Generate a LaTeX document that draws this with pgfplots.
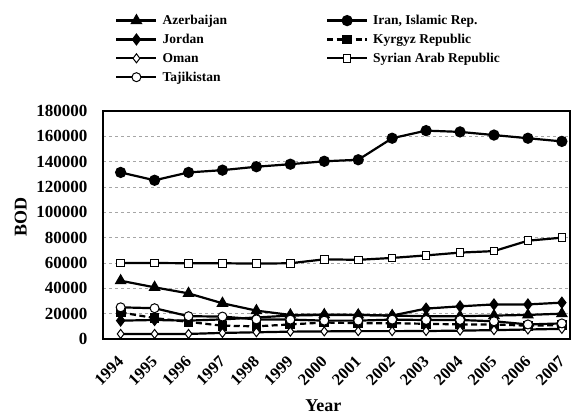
\documentclass[border=0pt]{standalone}
\usepackage{pgfplots}
\pgfplotsset{compat=1.18}
\usepackage{fontspec}
\setmainfont{Liberation Serif}
\pgfplotsset{
  openlegO/.style={legend image code/.code={%
    \draw[black, solid, line width=1pt, fill=white] (20pt,0pt) circle[radius=4.5pt];
    \draw[black, solid, line width=2.2pt] (0pt,0pt) -- (15.5pt,0pt) (24.5pt,0pt) -- (40pt,0pt);}},
  openlegS/.style={legend image code/.code={%
    \draw[black, solid, line width=1pt, fill=white] (16.2pt,-3.8pt) rectangle (23.8pt,3.8pt);
    \draw[black, solid, line width=2.2pt] (0pt,0pt) -- (16.2pt,0pt) (23.8pt,0pt) -- (40pt,0pt);}},
  openlegD/.style={legend image code/.code={%
    \draw[black, solid, line width=1pt, fill=white] (20pt,4.5pt) -- (23.4pt,0pt) -- (20pt,-4.5pt) -- (16.6pt,0pt) -- cycle;
    \draw[black, solid, line width=2.2pt] (0pt,0pt) -- (16.6pt,0pt) (23.4pt,0pt) -- (40pt,0pt);}},
}
\begin{document}
\begin{tikzpicture}
\begin{axis}[
  at={(0,0)}, anchor=south west,
  scale only axis, width=467pt, height=228pt,
  xmin=-0.52, xmax=13.24, ymin=0, ymax=180000,
  xtick={0,...,13},
  xticklabels={1994,1995,1996,1997,1998,1999,2000,2001,2002,2003,2004,2005,2006,2007},
  ytick={0,20000,...,180000},
  scaled y ticks=false,
  /pgf/number format/fixed, /pgf/number format/1000 sep={},
  /pgf/number format/assume math mode=true,
  yticklabel style={font=\fontsize{17}{19}\selectfont\bfseries, xshift=-12pt},
  xticklabel style={font=\fontsize{16.5}{18}\selectfont\bfseries, inner sep=0pt, xshift=-4pt, yshift=-16pt, rotate=45, anchor=north east},
  major tick length=0pt,
  ymajorgrids, major grid style={gray!70, dashed, line width=0.6pt},
  axis line style={line width=1.5pt},
  xlabel={Year}, ylabel={BOD},
  label style={font=\fontsize{18}{20}\selectfont\bfseries},
  xlabel style={at={(axis description cs:0.472,-0.294)}, anchor=center},
  ylabel style={at={(axis description cs:-0.176,0.535)}, anchor=center},
  legend columns=2,
  legend cell align=left,
  legend image code/.code={%
    \draw[#1, mark=none, line width=2.2pt] (0pt,0pt) -- (40pt,0pt);
    \path[#1, draw=none] plot coordinates {(20pt,0pt)};},
  legend style={draw=none, fill=none, inner sep=0pt,
    at={(axis description cs:0.026,1.43)}, anchor=north west,
    font=\fontsize{13.5}{15}\selectfont\bfseries, row sep=4pt,
    /tikz/every odd column/.append style={column sep=3pt},
    /tikz/every even column/.append style={column sep=97pt}},
]
% Azerbaijan
\addplot[black, line width=2.2pt, mark=triangle*, mark size=4.8pt, mark options={solid, fill=black}] coordinates {
(0,46000)(1,40800)(2,36000)(3,28200)(4,22400)(5,19000)(6,19200)(7,19000)(8,18500)(9,18000)(10,18000)(11,18500)(12,19000)(13,20000)};
\addlegendentry{Azerbaijan}
% Iran
\addplot[black, line width=2.2pt, mark=*, mark size=4.5pt, mark options={solid, fill=black}] coordinates {
(0,131500)(1,125300)(2,131500)(3,133300)(4,136000)(5,138000)(6,140300)(7,141500)(8,158500)(9,164500)(10,163500)(11,161000)(12,158500)(13,156000)};
\addlegendentry{Iran, Islamic Rep.}
% Jordan
\addplot[black, line width=2.2pt, mark=diamond*, mark size=4.5pt, mark options={solid, fill=black}] coordinates {
(0,14500)(1,15000)(2,14500)(3,15500)(4,17000)(5,18500)(6,19000)(7,19000)(8,18500)(9,24000)(10,25800)(11,27300)(12,27300)(13,28700)};
\addlegendentry{Jordan}
% Kyrgyz
\addplot[black, line width=2.2pt, dash pattern=on 6pt off 3.5pt, mark=square*, mark size=3.8pt, mark options={solid, fill=black}] coordinates {
(0,21000)(1,16500)(2,13500)(3,10500)(4,10000)(5,11500)(6,13000)(7,12500)(8,12500)(9,12000)(10,11500)(11,11500)(12,10500)(13,11000)};
\addlegendentry{Kyrgyz Republic}
% Oman
\addplot[black, line width=2.2pt, mark=diamond*, mark size=4.5pt, mark options={solid, fill=white, line width=1pt}, forget plot] coordinates {
(0,4000)(1,4000)(2,4000)(3,4800)(4,5300)(5,5800)(6,6000)(7,6200)(8,6200)(9,6300)(10,6600)(11,7000)(12,7500)(13,8000)};
\addlegendimage{openlegD}
\addlegendentry{Oman}
% Syria
\addplot[black, line width=2.2pt, mark=square*, mark size=3.8pt, mark options={solid, fill=white, line width=1pt}, forget plot] coordinates {
(0,60000)(1,60000)(2,59800)(3,59800)(4,59500)(5,59800)(6,62900)(7,62500)(8,64000)(9,66000)(10,68200)(11,69400)(12,77600)(13,80000)};
\addlegendimage{openlegS}
\addlegendentry{Syrian Arab Republic}
% Tajikistan
\addplot[black, line width=2.2pt, mark=*, mark size=4.5pt, mark options={solid, fill=white, line width=1pt}, forget plot] coordinates {
(0,25000)(1,24300)(2,18000)(3,17700)(4,15500)(5,15300)(6,14500)(7,14500)(8,15300)(9,15000)(10,15000)(11,14000)(12,11500)(13,12300)};
\addlegendimage{openlegO}
\addlegendentry{Tajikistan}
\end{axis}
\pgfresetboundingbox
\path[use as bounding box] (-103pt,-80pt) rectangle (477pt,339pt);
\end{tikzpicture}
\end{document}
